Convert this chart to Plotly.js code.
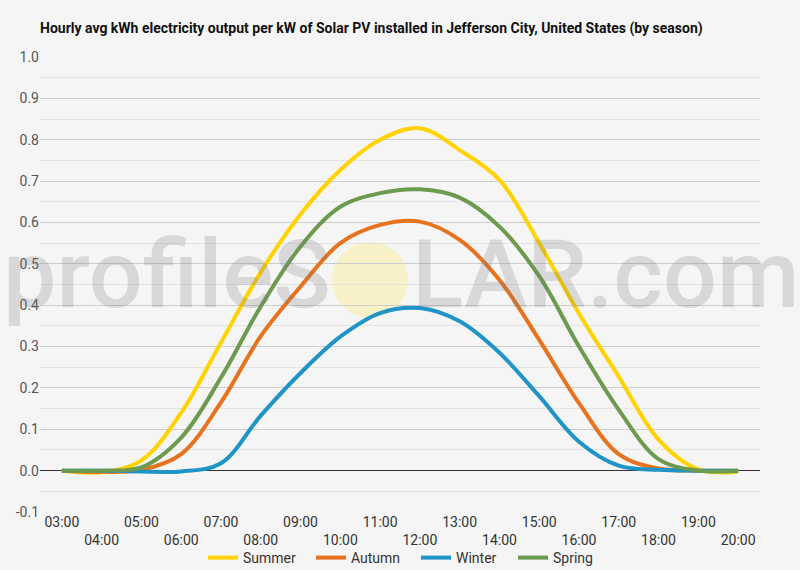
<!DOCTYPE html>
<html>
<head>
<meta charset="utf-8">
<script src="https://cdn.plot.ly/plotly-3.0.1.min.js"></script>
<style>
  html, body { margin: 0; padding: 0; background: #f5f5f5; }
  #chart { width: 800px; height: 570px; }
</style>
</head>
<body>
<div id="chart"></div>
<script>
// hours of the day (category axis)
var hours = ['03:00', '04:00', '05:00', '06:00', '07:00', '08:00', '09:00', '10:00', '11:00',
             '12:00', '13:00', '14:00', '15:00', '16:00', '17:00', '18:00', '19:00', '20:00'];

// avg kWh per kW installed
var summer = [0.0, -0.004, 0.025, 0.14, 0.31, 0.48, 0.62, 0.727, 0.80, 0.828, 0.775, 0.703, 0.55, 0.38, 0.227, 0.075, 0.003, -0.003];
var autumn = [0.0, -0.003, 0.002, 0.04, 0.165, 0.325, 0.445, 0.55, 0.594, 0.602, 0.558, 0.461, 0.316, 0.163, 0.04, 0.005, 0.0, 0.0];
var winter = [0.0, 0.0, -0.002, -0.002, 0.018, 0.133, 0.236, 0.324, 0.381, 0.393, 0.361, 0.285, 0.18, 0.07, 0.012, 0.002, 0.0, 0.0];
var spring = [0.0, 0.0, 0.008, 0.08, 0.225, 0.397, 0.542, 0.638, 0.671, 0.68, 0.66, 0.59, 0.47, 0.30, 0.147, 0.028, 0.0, 0.0];

var seasonNames = ['Summer', 'Autumn', 'Winter', 'Spring'];
var seasonColors = ['#ffd200', '#e8731f', '#1f94c6', '#6c9a4f'];

var yTicks = [-0.1, 0.0, 0.1, 0.2, 0.3, 0.4, 0.5, 0.6, 0.7, 0.8, 0.9, 1.0];

window.addEventListener("DOMContentLoaded", ()=>{
    var series = [summer, autumn, winter, spring];
    var legendIds = ['legend', 'legend2', 'legend3', 'legend4'];
    var data = series.map(function(vals, i){
        return {
            x: hours,
            y: vals,
            name: seasonNames[i],
            legend: legendIds[i],
            type: 'scatter',
            mode: 'lines',
            line: { color: seasonColors[i], width: 4, shape: 'spline', smoothing: 1 },
            hoverinfo: 'x+y+name'
        };
    });

    // alternate the hour labels over two rows
    var tickText = hours.map(function(h, i){ return i % 2 === 0 ? h : '<br>' + h; });

    var wmColor = 'rgba(120,120,120,0.23)';

    var layout = {
        width: 800,
        height: 570,
        paper_bgcolor: '#f5f5f5',
        plot_bgcolor: '#f5f5f5',
        margin: { l: 40, r: 40, t: 57, b: 58 },
        font: { family: 'Roboto, sans-serif', color: '#333' },
        title: {
            text: 'Hourly avg kWh electricity output per kW of Solar PV installed in Jefferson City, United States (by season)',
            font: { family: 'Roboto', size: 14, weight: 'bold', color: '#111' },
            xref: 'paper', x: 0, xanchor: 'left',
            yref: 'container', y: 0.951, yanchor: 'middle'
        },
        xaxis: {
            type: 'category',
            categoryarray: hours,
            tickvals: hours,
            ticktext: tickText,
            showgrid: false,
            showline: false,
            zeroline: false,
            ticks: '',
            automargin: false,
            tickfont: { size: 14, color: '#333' },
            range: [-0.55, hours.length - 0.45],
            fixedrange: true
        },
        yaxis: {
            range: [-0.1, 1.0],
            tickvals: yTicks,
            ticktext: yTicks.map(function(v){ return v.toFixed(1); }),
            showgrid: true,
            gridcolor: '#cccccc',
            gridwidth: 1,
            minor: { dtick: 0.05, showgrid: true, gridcolor: '#e4e4e4', gridwidth: 1 },
            zeroline: true,
            zerolinecolor: '#333333',
            zerolinewidth: 1,
            showline: false,
            ticks: '',
            automargin: false,
            tickfont: { size: 14, color: '#555' },
            fixedrange: true
        },
        showlegend: true,
        shapes: [{
            type: 'circle',
            xref: 'paper', yref: 'y',
            x0: 0.4056, x1: 0.5111, y0: 0.37, y1: 0.553,
            fillcolor: 'rgba(248,240,190,0.85)',
            line: { width: 0 },
            layer: 'below'
        }],
        annotations: [{
            text: 'profileS',
            xref: 'paper', yref: 'y',
            x: 0.4069, xanchor: 'right',
            y: 0.475, yanchor: 'middle',
            showarrow: false,
            font: { family: 'Roboto', size: 95, weight: 500, color: wmColor }
        }, {
            text: 'LAR.com',
            xref: 'paper', yref: 'y',
            x: 0.5139, xanchor: 'left',
            y: 0.475, yanchor: 'middle',
            showarrow: false,
            font: { family: 'Roboto', size: 95, weight: 500, color: wmColor }
        }]
    };

    // one small legend per season, laid out in a row under the axis
    var legendX = [203, 311, 416, 513];
    legendIds.forEach(function(id, i){
        layout[id] = {
            orientation: 'h',
            xref: 'container', x: legendX[i] / 800, xanchor: 'left',
            yref: 'container', y: 1 - 558 / 570, yanchor: 'middle',
            font: { size: 14, color: '#333' },
            bgcolor: 'rgba(0,0,0,0)',
            itemwidth: 30
        };
    });

    Plotly.newPlot('chart', data, layout, { displayModeBar: false, staticPlot: true });
});
</script>
</body>
</html>
